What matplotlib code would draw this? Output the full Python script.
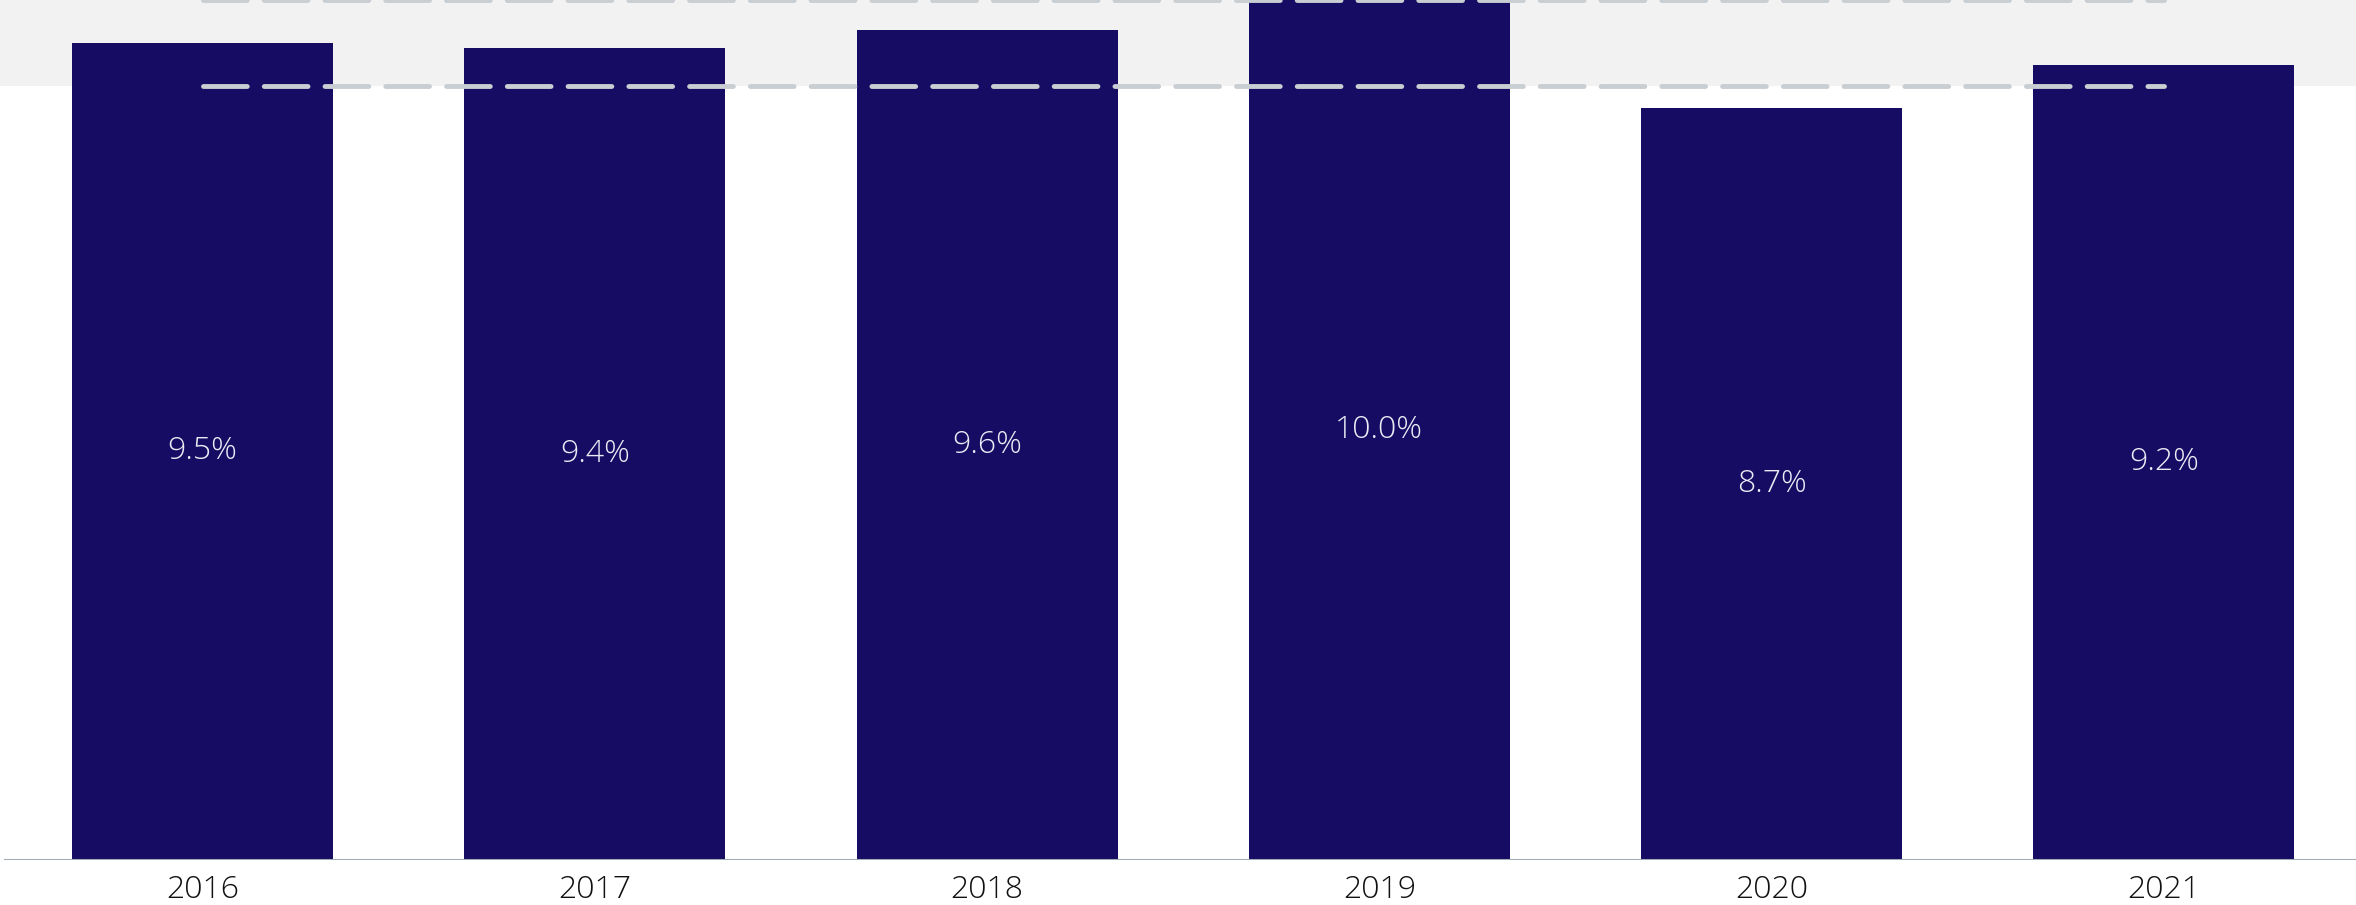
import matplotlib
matplotlib.use("Agg")
import matplotlib.pyplot as plt
from matplotlib import font_manager

years = ["2016", "2017", "2018", "2019", "2020", "2021"]
values = [9.50, 9.44, 9.65, 10.0, 8.74, 9.24]
labels = ["9.5%", "9.4%", "9.6%", "10.0%", "8.7%", "9.2%"]
band_low, band_high = 9.0, 10.0

navy = "#170C64"
band_color = "#F2F2F2"
dash_color = "#C9CED3"
axis_color = "#9FACB6"

names = {f.name for f in font_manager.fontManager.ttflist}
fam = ["Open Sans", "DejaVu Sans"] if "Open Sans" in names else ["DejaVu Sans"]
plt.rcParams["font.family"] = fam

W, H = 2356, 905
fig = plt.figure(figsize=(W / 100, H / 100), dpi=100)
ax = fig.add_axes([0, 45 / H, 1, 1 - 45 / H])

x = list(range(len(years)))
ax.set_xlim(-202.5 / 392, 5 + (W - 2164) / 392)
ax.set_ylim(0, 9.995)

ax.axhspan(band_low, band_high, color=band_color, zorder=0, lw=0)
ax.bar(x, values, width=0.666, color=navy, zorder=2, lw=0)
for yv in (band_low, 9.99):
    ax.plot([x[0], x[-1]], [yv, yv], color=dash_color, lw=3.5,
            dashes=(9, 3.5), dash_capstyle="round", zorder=3, clip_on=False)

for xi, v, lab in zip(x, values, labels):
    ax.text(xi, v / 2, lab, ha="center", va="center", color="#ECEBF4",
            fontsize=23, fontweight=300, zorder=4)

ax.axhline(0, xmin=5 / W, xmax=1, color=axis_color, lw=2.2, zorder=5)
for s in ax.spines.values():
    s.set_visible(False)
ax.set_yticks([])
ax.set_xticks(x)
ax.set_xticklabels(years, fontsize=23, color="#111111", fontweight=300)
ax.tick_params(axis="x", length=0, pad=10)

fig.savefig("out.png", dpi=100)
